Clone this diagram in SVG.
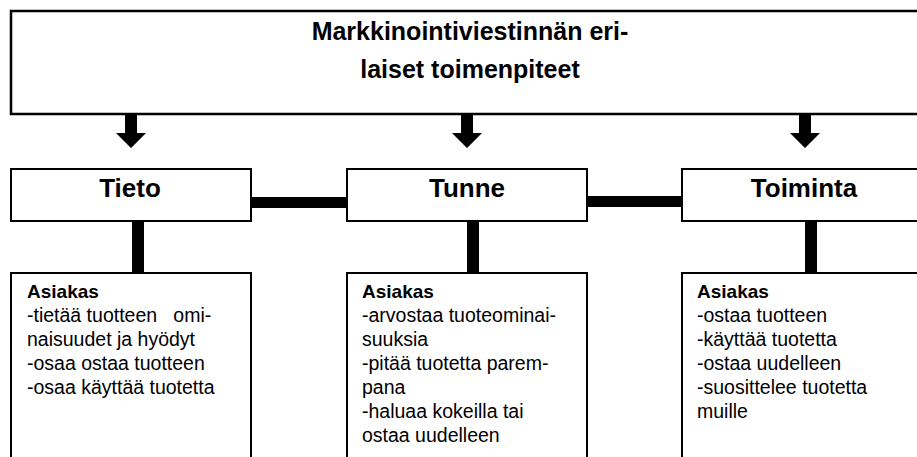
<svg xmlns="http://www.w3.org/2000/svg" width="917" height="457" viewBox="0 0 917 457">
<style>
.box{fill:#fff;stroke:#000;stroke-width:2}
.top{fill:#fff;stroke:#000;stroke-width:2.5}
.bar{fill:#000}
.title{font-family:"Liberation Sans",Arial,sans-serif;font-weight:bold;font-size:25px;text-anchor:middle}
.head{font-family:"Liberation Sans",Arial,sans-serif;font-weight:bold;font-size:26px;text-anchor:middle}
.lbl{font-family:"Liberation Sans",Arial,sans-serif;font-weight:bold;font-size:19px}
.txt{font-family:"Liberation Sans",Arial,sans-serif;font-size:19.5px;white-space:pre}
</style>
<rect width="917" height="457" fill="#fff"/>
<g id="connectors">
<path class="bar" d="M125 114h12v19h9l-15 15l-15-15h9z"/>
<path class="bar" d="M461 114h12v19h9l-15 15l-15-15h9z"/>
<path class="bar" d="M799 114h12v19h9l-15 15l-15-15h9z"/>
<rect class="bar" x="244" y="197" width="103" height="11"/>
<rect class="bar" x="585" y="196" width="98" height="11"/>
<rect class="bar" x="132" y="219" width="12" height="54"/>
<rect class="bar" x="467" y="219" width="12" height="54"/>
<rect class="bar" x="805" y="219" width="12" height="54"/>
</g>
<g id="top">
<rect class="top" x="11" y="11" width="912" height="103"/>
<text class="title" x="470" y="40">Markkinointiviestinnän eri-</text>
<text class="title" x="470" y="78">laiset toimenpiteet</text>
</g>
<g id="tieto">
<rect class="box" x="11" y="169" width="240" height="52"/>
<text class="head" x="130" y="197">Tieto</text>
</g>
<g id="tunne">
<rect class="box" x="347" y="169" width="240" height="52"/>
<text class="head" x="467" y="197">Tunne</text>
</g>
<g id="toiminta">
<rect class="box" x="682" y="169" width="240" height="52"/>
<text class="head" x="804" y="197">Toiminta</text>
</g>
<g id="tieto-asiakas">
<rect class="box" x="11" y="273" width="240" height="200"/>
<text class="lbl" x="27" y="298">Asiakas</text>
<text class="txt" x="27" y="322">-tietää tuotteen   omi-</text>
<text class="txt" x="27" y="346">naisuudet ja hyödyt</text>
<text class="txt" x="27" y="370">-osaa ostaa tuotteen</text>
<text class="txt" x="27" y="394">-osaa käyttää tuotetta</text>
</g>
<g id="tunne-asiakas">
<rect class="box" x="347" y="273" width="240" height="200"/>
<text class="lbl" x="362" y="298">Asiakas</text>
<text class="txt" x="362" y="322">-arvostaa tuoteominai-</text>
<text class="txt" x="362" y="346">suuksia</text>
<text class="txt" x="362" y="370">-pitää tuotetta parem-</text>
<text class="txt" x="362" y="394">pana</text>
<text class="txt" x="362" y="418">-haluaa kokeilla tai</text>
<text class="txt" x="362" y="442">ostaa uudelleen</text>
</g>
<g id="toiminta-asiakas">
<rect class="box" x="682" y="273" width="240" height="200"/>
<text class="lbl" x="697" y="298">Asiakas</text>
<text class="txt" x="697" y="322">-ostaa tuotteen</text>
<text class="txt" x="697" y="346">-käyttää tuotetta</text>
<text class="txt" x="697" y="370">-ostaa uudelleen</text>
<text class="txt" x="697" y="394">-suosittelee tuotetta</text>
<text class="txt" x="697" y="418">muille</text>
</g>
</svg>
